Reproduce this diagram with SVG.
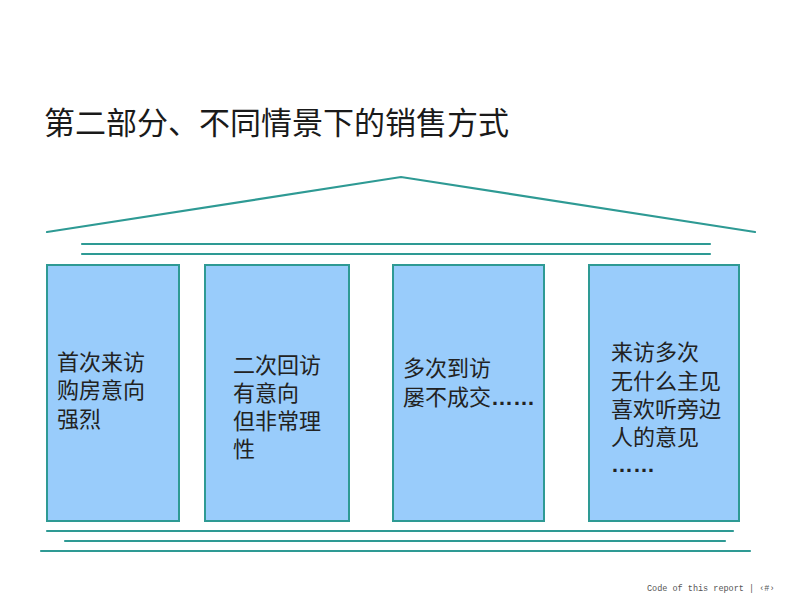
<svg xmlns="http://www.w3.org/2000/svg" width="800" height="600" viewBox="0 0 800 600">
<style>
.ln{stroke:#2e9a94;stroke-width:2.2;fill:none;stroke-linecap:round}
.box{fill:#99ccfb;stroke:#2e9a94;stroke-width:2}
.t{font-family:"Liberation Sans","Noto Sans CJK SC",sans-serif;font-size:22px;fill:#222}
.el{font-weight:bold}
.title{font-family:"Noto Sans CJK SC","Noto Sans",sans-serif;font-size:31px;fill:#1a1a1a}
.foot{font-family:"Liberation Mono",monospace;font-size:8.5px;fill:#555}
</style>
<rect width="800" height="600" fill="#fff"/>
<text class="title" x="44" y="134">第二部分、不同情景下的销售方式</text>
<g id="connectors">
<polyline class="ln" points="47,232 401,177 755,232"/>
<line class="ln" x1="82" y1="244" x2="710" y2="244"/>
<line class="ln" x1="82" y1="254" x2="710" y2="254"/>
<line class="ln" x1="47" y1="531" x2="733" y2="531"/>
<line class="ln" x1="65" y1="541" x2="725" y2="541"/>
<line class="ln" x1="41" y1="551" x2="750" y2="551"/>
</g>
<g id="node1">
<rect class="box" x="47" y="265" width="132" height="256"/>
<text class="t" x="57" y="370">首次来访<tspan x="57" dy="28">购房意向</tspan><tspan x="57" dy="29">强烈</tspan></text>
</g>
<g id="node2">
<rect class="box" x="205" y="265" width="144" height="256"/>
<text class="t" x="233" y="373">二次回访<tspan x="233" dy="28">有意向</tspan><tspan x="233" dy="28">但非常理</tspan><tspan x="233" dy="28">性</tspan></text>
</g>
<g id="node3">
<rect class="box" x="393" y="265" width="151" height="256"/>
<text class="t" x="403" y="376">多次到访<tspan x="403" dy="29">屡不成交</tspan><tspan class="el">……</tspan></text>
</g>
<g id="node4">
<rect class="box" x="589" y="265" width="150" height="256"/>
<text class="t" x="611" y="360">来访多次<tspan x="611" dy="29">无什么主见</tspan><tspan x="611" dy="28">喜欢听旁边</tspan><tspan x="611" dy="28">人的意见</tspan><tspan class="el" x="611" dy="27">……</tspan></text>
</g>
<text class="foot" x="647" y="591">Code of this report  |  ‹#›</text>
</svg>
